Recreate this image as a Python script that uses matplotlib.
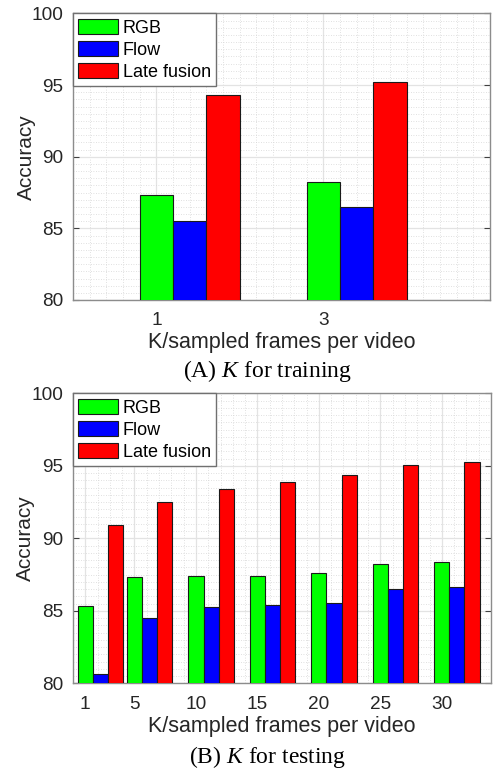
import matplotlib
matplotlib.use('Agg')
import matplotlib.pyplot as plt
from matplotlib.ticker import MultipleLocator

plt.rcParams['font.family'] = ['Liberation Sans', 'DejaVu Sans']
plt.rcParams['mathtext.fontset'] = 'custom'
plt.rcParams['mathtext.it'] = 'Liberation Serif:italic'
plt.rcParams['mathtext.rm'] = 'Liberation Serif'

series = ['RGB', 'Flow', 'Late fusion']
colors = ['#00ff00', '#0000ff', '#ff0000']

# (A) K for training
k_train = [1, 3]
rgb_train = [87.30, 88.26]
flow_train = [85.53, 86.51]
fusion_train = [94.28, 95.19]

# (B) K for testing
k_test = [1, 5, 10, 15, 20, 25, 30]
rgb_test = [85.33, 87.31, 87.43, 87.43, 87.59, 88.21, 88.39]
flow_test = [80.64, 84.51, 85.24, 85.43, 85.56, 86.48, 86.67]
fusion_test = [90.90, 92.51, 93.40, 93.91, 94.39, 95.08, 95.29]

fig = plt.figure(figsize=(4.95, 7.72), dpi=100)
ax1 = fig.add_axes([0.1475, 0.6114, 0.8424, 0.3713])
ax2 = fig.add_axes([0.1475, 0.1149, 0.8444, 0.3756])


def draw(ax, ks, vals, width, xlim, xminor):
    for i, (v, c, name) in enumerate(zip(vals, colors, series)):
        xs = [k + i * width for k in ks]
        ax.bar(xs, v, width=width, color=c, edgecolor='#1a1a1a',
               linewidth=0.8, label=name, zorder=3)
    ax.set_xlim(*xlim)
    ax.set_ylim(80, 100)
    ax.set_xticks(ks)
    ax.set_yticks([80, 85, 90, 95, 100])
    ax.xaxis.set_minor_locator(MultipleLocator(xminor))
    ax.yaxis.set_minor_locator(MultipleLocator(0.5))
    ax.grid(True, which='major', color='#e3e3e3', linewidth=0.9, zorder=0)
    ax.grid(True, which='minor', color='#d6d6d6', linestyle=(0, (1, 2)),
            linewidth=0.6, zorder=0)
    ax.set_axisbelow(True)
    for s in ax.spines.values():
        s.set_color('#8c8c8c')
        s.set_linewidth(1.0)
    ax.tick_params(which='major', direction='in', length=4, width=0.8,
                   color='#404040', labelsize=13.7, top=False, right=True)
    ax.tick_params(axis='x', pad=9)
    ax.tick_params(axis='y', pad=7)
    ax.tick_params(which='minor', length=0)
    ax.set_xlabel('K/sampled frames per video', fontsize=15.5, color='#262626')
    ax.set_ylabel('Accuracy', fontsize=15, color='#262626')
    ax.xaxis.set_label_coords(0.5, -0.112)
    ax.yaxis.set_label_coords(-0.09, 0.5)
    for t in ax.get_xticklabels() + ax.get_yticklabels():
        t.set_color('#262626')
    leg = ax.legend(loc='upper left', bbox_to_anchor=(0, 1), borderaxespad=0,
                    fontsize=13, fancybox=False, edgecolor='#707070',
                    framealpha=1, handlelength=2.2, handleheight=0.95,
                    handletextpad=0.25, labelspacing=0.22, borderpad=0.3)
    leg.get_frame().set_linewidth(1.0)
    for p in leg.get_patches():
        p.set_edgecolor('#1a1a1a')


draw(ax1, k_train, [rgb_train, flow_train, fusion_train], 0.4, (0, 5), 0.2)
draw(ax2, k_test, [rgb_test, flow_test, fusion_test], 1.23, (0, 34), 1)

fig.text(0.541, 0.512, r'(A) $K$ for training', family='Liberation Serif',
         fontsize=17, ha='center', va='baseline')
fig.text(0.541, 0.0113, r'(B) $K$ for testing', family='Liberation Serif',
         fontsize=17, ha='center', va='baseline')

fig.savefig('out.png', dpi=100)
